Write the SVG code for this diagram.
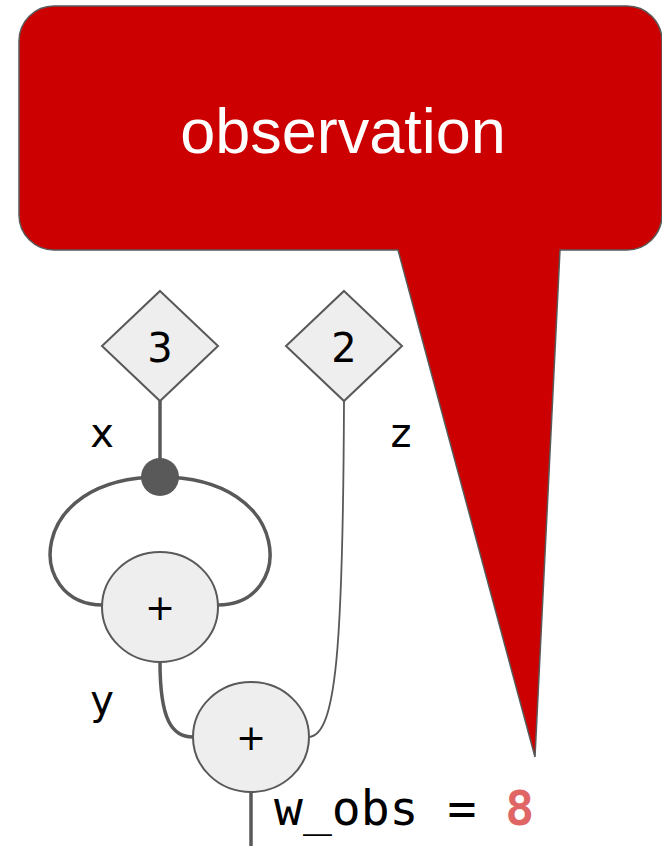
<svg xmlns="http://www.w3.org/2000/svg" width="662" height="846" viewBox="0 0 662 846">
<style>
.node{fill:#eeeeee;stroke:#595959;stroke-width:2}
.thick{fill:none;stroke:#595959;stroke-width:3.5}
.thin{fill:none;stroke:#595959;stroke-width:1.8}
.lbl{font-family:"DejaVu Sans",sans-serif;font-size:40px;fill:#000;text-anchor:middle}
.op{font-family:"DejaVu Sans",sans-serif;font-size:36px;fill:#000;text-anchor:middle}
</style>
<rect width="662" height="846" fill="#ffffff"/>
<g id="connectors">
<path class="thick" d="M160,401 V477"/>
<path class="thick" d="M160,477 C25,477 25,605 103,605"/>
<path class="thick" d="M160,477 C295,477 295,605 218,605"/>
<path class="thick" d="M160,662 C160,720 172,737 193,737"/>
<path class="thin" d="M344,401 C343,650 336,735 309,737"/>
<path class="thick" d="M251,792 V846"/>
</g>
<g id="dot"><circle cx="160" cy="477" r="19" fill="#595959"/></g>
<g id="const3">
<polygon class="node" points="160,291 218,346 160,401 102,346"/>
<text class="lbl" x="160" y="362">3</text>
</g>
<g id="const2">
<polygon class="node" points="344,291 402,346 344,401 286,346"/>
<text class="lbl" x="344" y="362">2</text>
</g>
<g id="plus1">
<ellipse class="node" cx="160" cy="607" rx="58" ry="55"/>
<text class="op" x="160" y="620">+</text>
</g>
<g id="plus2">
<ellipse class="node" cx="251" cy="737" rx="58" ry="55"/>
<text class="op" x="251" y="750">+</text>
</g>
<g id="labels">
<text class="lbl" x="102" y="447">x</text>
<text class="lbl" x="401" y="447">z</text>
<text class="lbl" x="102" y="714">y</text>
<text x="274" y="825" font-family="DejaVu Sans Mono, monospace" font-size="48" fill="#000" xml:space="preserve">w_obs = <tspan fill="#e06666" font-weight="bold">8</tspan></text>
</g>
<g id="callout">
<path d="M54,6 H627 A35,35 0 0 1 662,41 V215 A35,35 0 0 1 627,250 H560 L535,757 L398,250 H54 A35,35 0 0 1 19,215 V41 A35,35 0 0 1 54,6 Z" fill="#cc0000" stroke="#595959" stroke-width="1.5"/>
<text x="343" y="153" font-family="Liberation Sans, Arial, sans-serif" font-size="63" fill="#ffffff" text-anchor="middle">observation</text>
</g>
</svg>
